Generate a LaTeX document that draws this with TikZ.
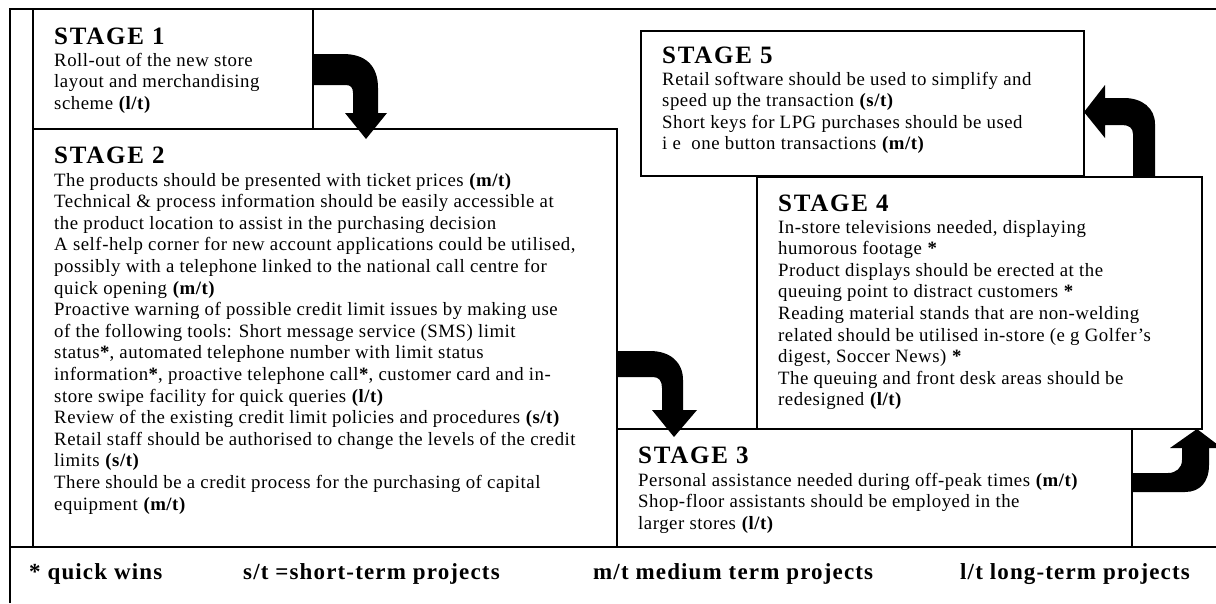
\documentclass[tikz,border=0pt]{standalone}
\usepackage{fontspec}
\setmainfont[LetterSpace=2.8]{Liberation Serif}
\newfontfamily\headfont[LetterSpace=7]{Liberation Serif}
\newfontfamily\keyfont[LetterSpace=5]{Liberation Serif}
\usetikzlibrary{calc}

\tikzset{
  stagebox/.style={draw, line width=1.6pt, fill=white, anchor=north west,
                   inner sep=0pt, outer sep=0pt},
  headtext/.style={anchor=base west, inner sep=0pt,
                   font=\headfont\bfseries\fontsize{25}{28}\selectfont},
  bodytext/.style={anchor=base west, inner sep=0pt,
                   font=\fontsize{18.8}{21.6}\selectfont},
  keytext/.style={anchor=base west, inner sep=0pt,
                  font=\keyfont\bfseries\fontsize{23}{27}\selectfont},
  framerule/.style={line width=1.6pt},
  bentarrow/.style={fill=black, draw=none},
}
\newcommand{\term}[1]{\textbf{(#1)}}
\newcommand{\qw}{\textbf{*}}

\begin{document}
\begin{tikzpicture}[x=1pt, y=-1pt]
\useasboundingbox (0,0) rectangle (1216,603);

% outer frame and the rule above the key
\draw[framerule] (10,603) -- (10,9) -- (1216,9);
\draw[framerule] (10,547) -- (1216,547);

% stage boxes
\node[stagebox, minimum width=280pt, minimum height=120pt] (s1) at (33,9) {};
\node[stagebox, minimum width=584pt, minimum height=418pt] (s2) at (33,129) {};
\node[stagebox, minimum width=515pt, minimum height=118pt] (s3) at (617,429) {};
\node[stagebox, minimum width=445pt, minimum height=252pt] (s4) at (757,177) {};
\node[stagebox, minimum width=443pt, minimum height=145pt] (s5) at (641,31) {};

% stage 1
\node[headtext] (h1) at (54,44) {STAGE 1};
\node[bodytext] (b1) at (54,66) {\parbox[t]{260pt}{%
Roll-out of the new store\\
layout and merchandising\\
scheme \term{l/t}}};

% stage 2
\node[headtext] (h2) at (54,163) {STAGE 2};
\node[bodytext] (b2) at (54,186) {\parbox[t]{600pt}{%
The products should be presented with ticket prices \term{m/t}\\
Technical \& process information should be easily accessible at\\
the product location to assist in the purchasing decision\\
A self-help corner for new account applications could be utilised,\\
possibly with a telephone linked to the national call centre for\\
quick opening \term{m/t}\\
Proactive warning of possible credit limit issues by making use\\
of the following tools: Short message service (SMS) limit\\
status\qw, automated telephone number with limit status\\
information\qw, proactive telephone call\qw, customer card and in-\\
store swipe facility for quick queries \term{l/t}\\
Review of the existing credit limit policies and procedures \term{s/t}\\
Retail staff should be authorised to change the levels of the credit\\
limits \term{s/t}\\
There should be a credit process for the purchasing of capital\\
equipment \term{m/t}}};

% stage 3
\node[headtext] (h3) at (638,463) {STAGE 3};
\node[bodytext] (b3) at (638,486) {\parbox[t]{500pt}{%
Personal assistance needed during off-peak times \term{m/t}\\
Shop-floor assistants should be employed in the\\
larger stores \term{l/t}}};

% stage 4
\node[headtext] (h4) at (778,211) {STAGE 4};
\node[bodytext] (b4) at (778,233) {\parbox[t]{420pt}{%
In-store televisions needed, displaying\\
humorous footage \qw\\
Product displays should be erected at the\\
queuing point to distract customers \qw\\
Reading material stands that are non-welding\\
related should be utilised in-store (e g Golfer’s\\
digest, Soccer News) \qw\\
The queuing and front desk areas should be\\
redesigned \term{l/t}}};

% stage 5
\node[headtext] (h5) at (662,63) {STAGE 5};
\node[bodytext] (b5) at (662,85) {\parbox[t]{420pt}{%
Retail software should be used to simplify and\\
speed up the transaction \term{s/t}\\
Short keys for LPG purchases should be used\\
i e\ \ one button transactions \term{m/t}}};

% bent arrows leading from one stage to the next
\begin{scope}[shift={(s1.north east)}]
  \fill[bentarrow] (0,45) -- (30,45) .. controls (53,45) and (65,57) .. (65,79)
    -- (65,104) -- (74,104) -- (53,130) -- (32,104) -- (40,104) -- (40,84)
    .. controls (40,79) and (38,76) .. (33,76) -- (0,76) -- cycle;
\end{scope}
\begin{scope}[shift={(s2.north east)}]
  \fill[bentarrow] (0,222) -- (33,222) .. controls (53,222) and (66,233) .. (66,251)
    -- (66,281) -- (80,281) -- (57,308) -- (35,281) -- (45,281) -- (45,259)
    .. controls (45,252) and (42,248) .. (36,248) -- (0,248) -- cycle;
\end{scope}
\begin{scope}[shift={(s3.north east)}]
  \fill[bentarrow] (0,44) -- (36,44) .. controls (44,44) and (50,39) .. (50,31)
    -- (50,19) -- (38,19) -- (65,0) -- (90,19) -- (77,19) -- (77,36)
    .. controls (77,53) and (68,63) .. (53,63) -- (0,63) -- cycle;
\end{scope}
\begin{scope}[shift={(s4.north east)}]
  \fill[bentarrow] (-69,0) -- (-69,-43) .. controls (-69,-49) and (-73,-52) .. (-80,-52)
    -- (-97,-52) -- (-97,-39) -- (-118,-65) -- (-97,-92) -- (-97,-79) -- (-78,-79)
    .. controls (-60,-79) and (-47,-69) .. (-47,-53) -- (-47,0) -- cycle;
\end{scope}

% key to the project terms
\node[keytext] (k1) at (29,579) {* quick wins};
\node[keytext] (k2) at (243,579) {s/t =short-term projects};
\node[keytext] (k3) at (593,579) {m/t medium term projects};
\node[keytext] (k4) at (960,579) {l/t long-term projects};
\end{tikzpicture}
\end{document}
